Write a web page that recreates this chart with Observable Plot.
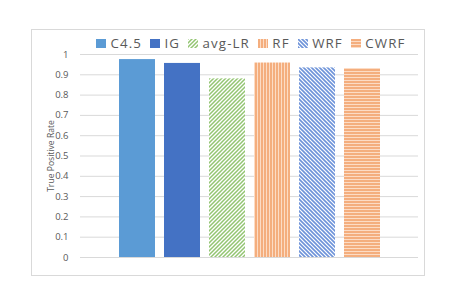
<!DOCTYPE html>
<html><head><meta charset="utf-8">
<script src="https://cdn.jsdelivr.net/npm/d3@7"></script>
<script src="https://cdn.jsdelivr.net/npm/@observablehq/plot@0.6"></script>
<style>
body{margin:0;background:#fff;font-family:"Open Sans",sans-serif;}
#wrap{position:relative;width:457px;height:305px;overflow:hidden;}
#frame{position:absolute;left:31px;top:29px;width:394px;height:247px;border:1px solid #D9D9D9;box-sizing:border-box;}
#legend{position:absolute;left:96px;top:34px;display:flex;align-items:center;font-size:13.3px;letter-spacing:1.1px;color:#595959;white-space:nowrap;line-height:18px;}
.item{display:flex;align-items:center;margin-right:8px}
.sw{display:block;margin-right:4.5px}
#chart{position:absolute;left:0;top:0}
</style></head><body>
<svg width="0" height="0" style="position:absolute"><defs>
<pattern id="pGreen" patternUnits="userSpaceOnUse" width="4" height="4">
<rect width="4" height="4" fill="#ffffff"/>
<path d="M-1,1 l2,-2 M0,4 l4,-4 M3,5 l2,-2" stroke="#93C572" stroke-width="1.5"/>
</pattern>
<pattern id="pBlue" patternUnits="userSpaceOnUse" width="4" height="4">
<rect width="4" height="4" fill="#ffffff"/>
<path d="M-1,3 l2,2 M0,0 l4,4 M3,-1 l2,2" stroke="#6E93D9" stroke-width="1.6"/>
</pattern>
<pattern id="pRF" patternUnits="userSpaceOnUse" width="3" height="3">
<rect width="3" height="3" fill="#F4AE7E"/>
<rect x="2" width="1" height="3" fill="#FCDCC5"/>
</pattern>
<pattern id="pCWRF" patternUnits="userSpaceOnUse" width="3" height="3">
<rect width="3" height="3" fill="#F4AE7E"/>
<rect y="2" width="3" height="1" fill="#FCDCC5"/>
</pattern>
</defs></svg>
<div id="wrap"><div id="frame"></div><div id="chart"></div><div id="legend"></div></div>
<script>
const categories = ["C4.5", "IG", "avg-LR", "RF", "WRF", "CWRF"];
const values = [0.975, 0.956, 0.88, 0.958, 0.934, 0.931];
const fills = ["#5B9BD5", "#4472C4", "url(#pGreen)", "url(#pRF)", "url(#pBlue)", "url(#pCWRF)"];
const yTicks = [0, 0.1, 0.2, 0.3, 0.4, 0.5, 0.6, 0.7, 0.8, 0.9, 1];
const yLabel = "True Positive Rate";

const data = categories.map((c, i) => ({cat: c, val: values[i]}));

const chart = Plot.plot({
  width: 457, height: 305,
  marginLeft: 80, marginRight: 39, marginTop: 54, marginBottom: 48,
  style: {fontFamily: "Open Sans", background: "transparent", overflow: "visible"},
  x: {domain: categories, range: [114, 384.6], paddingInner: 0.2, paddingOuter: 0.1, axis: null},
  y: {domain: [0, 1]},
  color: {domain: categories, range: fills},
  marks: [
    Plot.ruleY(yTicks, {stroke: "#D9D9D9", strokeWidth: 1}),
    Plot.barY(data, {x: "cat", y: "val", fill: "cat"}),
    Plot.axisY({ticks: yTicks, tickSize: 0, tickPadding: 12, fontSize: 9.5, fill: "#595959", label: null, tickFormat: d => String(d)}),
    Plot.axisY({ticks: [], tickSize: 0, label: yLabel, labelAnchor: "center", labelArrow: "none", labelOffset: 33, fontSize: 8.6, fill: "#595959"})
  ]
});
document.getElementById("chart").appendChild(chart);

const legend = document.getElementById("legend");
categories.forEach((c, i) => {
  const item = document.createElement("div");
  item.className = "item";
  item.innerHTML = `<svg class="sw" width="10" height="9"><rect width="10" height="9" fill="${fills[i]}"/></svg><span>${c}</span>`;
  legend.appendChild(item);
});
</script>
</body></html>
